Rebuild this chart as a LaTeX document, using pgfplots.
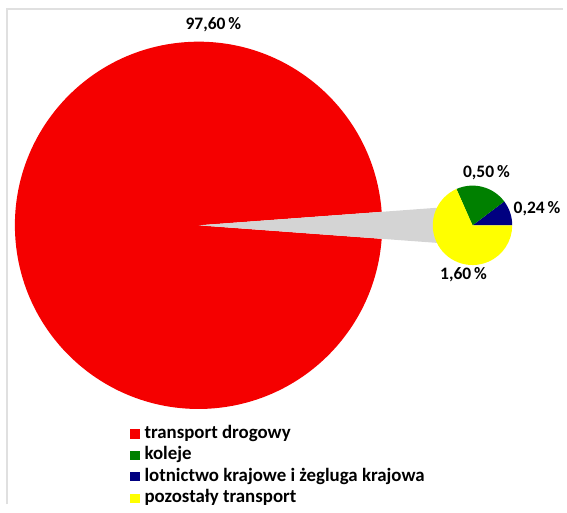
\documentclass[border=0pt]{standalone}
\usepackage{pgfplots}
\pgfplotsset{compat=1.18}
\usepackage{fontspec}
\setmainfont{Carlito}

\definecolor{cRoad}{RGB}{245,0,0}
\definecolor{cRail}{RGB}{0,128,0}
\definecolor{cAir}{RGB}{0,0,128}
\definecolor{cOther}{RGB}{255,255,0}
\definecolor{cWedge}{RGB}{212,212,212}

% udzialy (%)
\def\vRoad{97.60}
\def\vRail{0.50}
\def\vAir{0.24}
\def\vOther{1.60}

\begin{document}
\begin{tikzpicture}
% katy wycinkow
\pgfmathsetmacro\vRest{\vRail+\vAir+\vOther}
\pgfmathsetmacro\half{\vRest/(\vRoad+\vRest)*180}
\pgfmathsetmacro\halfEnd{360-\half}
\pgfmathsetmacro\mhalf{-\half}
\pgfmathsetmacro\aAir{\vAir/\vRest*360}
\pgfmathsetmacro\aRail{\aAir+\vRail/\vRest*360}
\begin{axis}[
    width=283.5pt, height=254pt, scale only axis,
    xmin=0, xmax=567, ymin=0, ymax=508,
    hide axis, clip=false,
    legend image code/.code={\fill[#1] (0pt,-2.3pt) rectangle (4.6pt,2.3pt);},
    legend style={draw=none, fill=none, at={(axis cs:125,86)}, anchor=north west,
        font=\bfseries\fontsize{9.5}{11}\selectfont, row sep=0pt,
        nodes={inner sep=1pt, text height=6.6pt, text depth=2.2pt},
        /tikz/every odd column/.append style={column sep=1.5pt}},
    legend cell align=left,
]
\path (axis cs:0,0) rectangle (axis cs:567,508);
% ramka
\draw[black!12, line width=0.6pt] (axis cs:7,0) -- (axis cs:7,499) -- (axis cs:567,499);

% duzy wykres
\fill[cRoad] (axis cs:200,281) -- ++(\half:92.5pt)
    arc[start angle=\half, end angle=\halfEnd, radius=92.5pt] -- cycle;
\fill[cWedge] (axis cs:200,281) -- ++(\half:137pt) -- ([shift={(\mhalf:137pt)}]axis cs:200,281) -- cycle;

% maly wykres
\fill[cAir] (axis cs:476,281) -- ++(0:20pt)
    arc[start angle=0, end angle=\aAir, radius=20pt] -- cycle;
\fill[cRail] (axis cs:476,281) -- ++(\aAir:20pt)
    arc[start angle=\aAir, end angle=\aRail, radius=20pt] -- cycle;
\fill[cOther] (axis cs:476,281) -- ++(\aRail:20pt)
    arc[start angle=\aRail, end angle=360, radius=20pt] -- cycle;

\begin{scope}[every node/.style={font=\bfseries\fontsize{8.8}{10}\selectfont, text=black}]
\node at (axis cs:215,483) {97,60\,\%};
\node at (axis cs:490,334) {0,50\,\%};
\node at (axis cs:541,298) {0,24\,\%};
\node at (axis cs:467,231) {1,60\,\%};
\end{scope}

\addlegendimage{draw=none, fill=cRoad}
\addlegendentry{transport drogowy}
\addlegendimage{draw=none, fill=cRail}
\addlegendentry{koleje}
\addlegendimage{draw=none, fill=cAir}
\addlegendentry{lotnictwo krajowe i żegluga krajowa}
\addlegendimage{draw=none, fill=cOther}
\addlegendentry{pozostały transport}
\end{axis}
\end{tikzpicture}
\end{document}
